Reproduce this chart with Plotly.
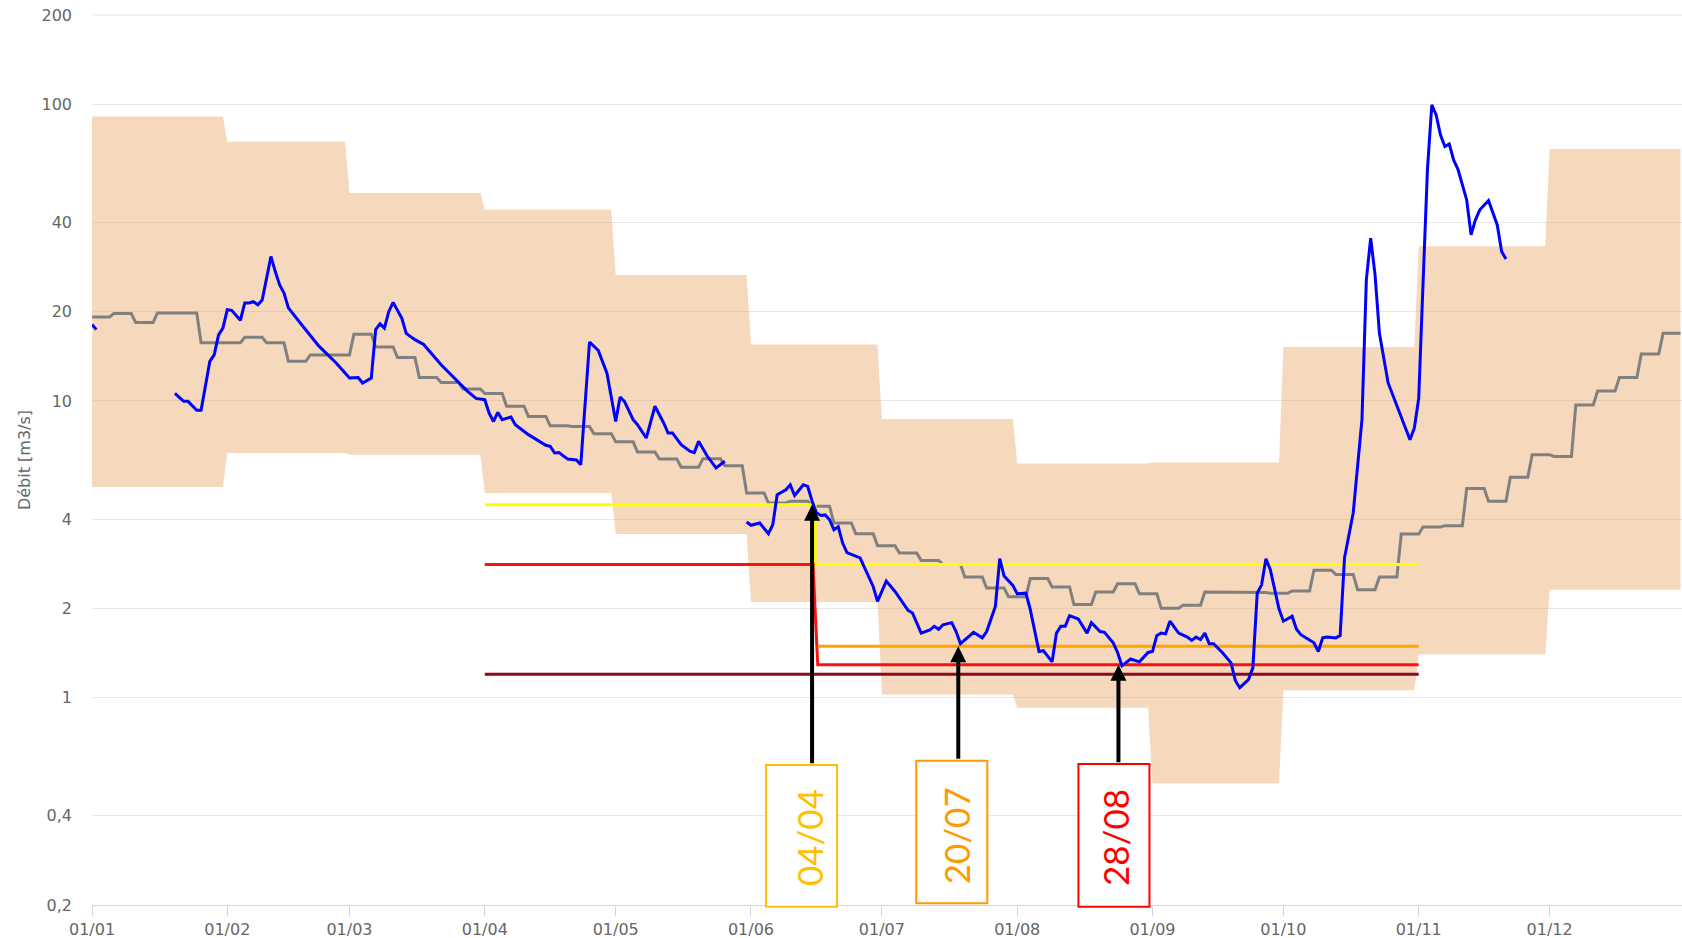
import numpy as np
import pandas as pd
import plotly.graph_objects as go

YEAR_START = pd.Timestamp("2022-01-01")


def doy(d):
    """jour de l'année (0 = 01/01) -> date"""
    return YEAR_START + pd.to_timedelta(d, unit="D")


# enveloppe mensuelle des débits (m3/s)
band_upper = [90.9, 74.8, 50.2, 44.1, 26.6, 15.5, 8.7, 6.15, 6.2, 15.2, 33.2, 70.7]
band_lower = [5.13, 6.68, 6.59, 4.9, 3.56, 2.10, 1.025, 0.924, 0.514, 1.06, 1.40, 2.31]

# débit médian par pentade (5 jours, à partir du 01/01)
median_pentad = [
    19.2, 19.7, 18.4, 19.8, 19.8, 15.7, 15.7, 16.4, 15.7, 13.6,
    14.3, 14.3, 16.8, 15.2, 14.0, 12.0, 11.55, 10.97, 10.6, 9.6,
    8.87, 8.25, 8.2, 7.76, 7.28, 6.73, 6.38, 5.98, 6.39, 6.05,
    4.9, 4.53, 4.59, 4.42, 3.88, 3.57, 3.25, 3.07, 2.9, 2.81,
    2.55, 2.34, 2.19, 2.52, 2.36, 2.06, 2.27, 2.42, 2.24, 2.0,
    2.05, 2.27, 2.27, 2.26, 2.25, 2.29, 2.69, 2.6, 2.31, 2.55,
    3.56, 3.76, 3.8, 5.07, 4.59, 5.53, 6.59, 6.5, 9.7, 10.8,
    12.0, 14.4, 16.9,
]

# débit observé (jour de l'année, m3/s) ; None = lacune
flow_days = [
    0, 1, 10,
    19, 21, 22, 23, 24, 25, 27, 28, 29, 30, 31, 32, 34, 35, 36, 37, 38, 39,
    40, 41, 42, 43, 44, 45, 48, 52, 56, 59, 61, 62, 64, 65, 66, 67, 68, 69,
    71, 72, 74, 76, 80, 83, 86, 88, 90, 91, 92, 93, 94, 96, 97, 100, 102,
    104, 105, 106, 107, 109, 111, 112, 114, 116, 118, 120, 121, 122, 124,
    125, 127, 129, 131, 132, 133, 135, 137, 138, 139, 141, 143, 145, 147,
    150, 151, 153, 155, 156, 157, 159, 160, 161, 163, 164, 165, 166, 167,
    168, 169, 170, 171, 172, 173, 176, 177, 179, 180, 182, 184, 186, 187,
    188, 190, 192, 193, 194, 195, 197, 198, 199, 201, 202, 204, 205, 207,
    208, 209, 211, 212, 214, 215, 216, 217, 218, 220, 221, 222, 223, 224,
    226, 228, 229, 231, 232, 234, 235, 236, 238, 240, 242, 243, 244, 245,
    246, 247, 249, 251, 252, 253, 254, 255, 256, 257, 259, 261, 262, 263,
    265, 266, 267, 268, 269, 270, 272, 273, 275, 276, 277, 279, 280, 281,
    282, 283, 285, 286, 287, 289, 291, 292, 293, 294, 295, 297, 300,
    302, 303, 304, 305, 306, 307, 308, 309, 310, 311, 312, 313, 315, 316,
    317, 318, 320, 322, 323, 324,
]
flow_vals = [
    18.1, 17.4, None,
    10.6, 9.97, 9.97, 9.6, 9.3, 9.3, 13.6, 14.3, 16.7, 17.6, 20.3, 20.2, 18.7, 21.4, 21.4, 21.6, 21.1, 21.9,
    25.9, 30.7, 27.3, 24.6, 23.1, 20.6, 18.1, 15.3, 13.4, 11.95, 12.0, 11.5, 11.95, 17.4, 18.2, 17.6, 20.0, 21.5,
    19.0, 16.9, 16.1, 15.5, 13.25, 11.95, 10.8, 10.2, 10.1, 9.1, 8.53, 9.15, 8.65, 8.83, 8.32, 7.7, 7.4,
    7.09, 7.03, 6.68, 6.7, 6.37, 6.33, 6.1, 15.8, 14.8, 12.4, 8.53, 10.3, 9.97, 8.65,
    8.32, 7.5, 9.6, 8.43, 7.8, 7.8, 7.12, 6.77, 6.7, 7.31, 6.51, 5.95, 6.26, None,
    3.91, 3.81, 3.88, 3.57, 3.83, 4.83, 5.02, 5.22, 4.8, 5.22, 5.15, 4.6, 4.2, 4.11,
    4.13, 3.98, 3.68, 3.77, 3.32, 3.08, 2.96, 2.74, 2.37, 2.11, 2.47, 2.28, 2.06, 1.97,
    1.93, 1.65, 1.69, 1.74, 1.70, 1.76, 1.79, 1.67, 1.52, 1.61, 1.66, 1.59, 1.67, 2.03,
    2.94, 2.57, 2.39, 2.24, 2.25, 1.98, 1.70, 1.43, 1.44, 1.32, 1.65, 1.74, 1.74, 1.89,
    1.84, 1.65, 1.79, 1.67, 1.66, 1.53, 1.42, 1.28, 1.35, 1.32, 1.42, 1.43, 1.62, 1.65,
    1.64, 1.81, 1.65, 1.6, 1.56, 1.6, 1.57, 1.65, 1.52, 1.52, 1.42, 1.31, 1.14, 1.08,
    1.15, 1.26, 2.25, 2.40, 2.94, 2.70, 1.99, 1.81, 1.88, 1.70, 1.63, 1.56, 1.53, 1.43,
    1.59, 1.6, 1.59, 1.62, 2.96, 4.2, 8.65, 25.6, 35.4, 26.6, 16.9, 11.5, 8.87,
    7.4, 8.1, 10.2, 25, 60.1, 99.5, 92.1, 78.8, 72.0, 73.5, 64.9, 60.4, 47.6, 36.3,
    40.8, 44.1, 47.4, 39.2, 31.9, 30.1,
]

# seuils sécheresse (jour de l'année, m3/s)
vigilance_days = [90, 165.7, 165.7, 304]
vigilance_vals = [4.47, 4.47, 2.81, 2.81]
alerte_renf_days = [90, 165.2, 166.3, 304]
alerte_renf_vals = [2.81, 2.81, 1.29, 1.29]
alerte_days = [166.3, 304]
alerte_vals = [1.49, 1.49]
crise_days = [90, 304]
crise_vals = [1.2, 1.2]

# franchissements de seuils annotés
cross_days = [165, 198.5, 235.2]
cross_vals = [4.47, 1.49, 1.29]
cross_labels = ["04/04", "20/07", "28/08"]
cross_colors = ["#FFC000", "#FF9900", "#FF0000"]

# ── construction des séries ──
month_start = pd.date_range("2022-01-01", periods=12, freq="MS")
month_end = month_start + pd.offsets.MonthEnd(0)
band_x = [d for s, e in zip(month_start, month_end) for d in (s, e)]
band_hi = [v for v in band_upper for _ in range(2)]
band_lo = [v for v in band_lower for _ in range(2)]

med_x, med_y = [], []
for k, v in enumerate(median_pentad):
    med_x += [doy(5 * k), doy(min(5 * k + 4, 364))]
    med_y += [v, v]

fig = go.Figure()

fig.add_trace(go.Scatter(x=band_x, y=band_lo, mode="lines", line=dict(width=0),
                         hoverinfo="skip", showlegend=False))
fig.add_trace(go.Scatter(x=band_x, y=band_hi, mode="lines", line=dict(width=0),
                         fill="tonexty", fillcolor="rgba(236,168,108,0.45)",
                         hoverinfo="skip", showlegend=False))

fig.add_trace(go.Scatter(x=med_x, y=med_y, mode="lines",
                         line=dict(color="#808080", width=3), name="Médiane"))

for days, vals, color in [
    (vigilance_days, vigilance_vals, "#FFFF00"),
    (alerte_renf_days, alerte_renf_vals, "#FF1010"),
    (alerte_days, alerte_vals, "#FFA500"),
    (crise_days, crise_vals, "#8B0A1E"),
]:
    fig.add_trace(go.Scatter(x=[doy(d) for d in days], y=vals, mode="lines",
                             line=dict(color=color, width=3), showlegend=False))

fig.add_trace(go.Scatter(x=[doy(d) for d in flow_days], y=flow_vals, mode="lines",
                         line=dict(color="#0000FF", width=3), connectgaps=False,
                         name="Débit"))

# ligne de grille du haut (200), masquée sinon par le bord du graphe
fig.add_shape(type="line", xref="paper", yref="paper", x0=0, x1=1, y0=1, y1=1,
              line=dict(color="#e6e6e6", width=1), layer="below")

# ── encadrés + flèches ──
box_px = [(-46, 25), (-42, 29), (-40, 31)]
box_paper = [(-0.002, 0.1573), (0.0019, 0.1621), (-0.0019, 0.1584)]
tail_px = [260, 114, 99]
text_shift = [-3, -2, -4]
text_y = [0.0753, 0.0775, 0.0758]

for i in range(3):
    xd = doy(cross_days[i])
    fig.add_shape(type="rect", xref="x", yref="paper", xsizemode="pixel",
                  xanchor=xd, x0=box_px[i][0], x1=box_px[i][1],
                  y0=box_paper[i][0], y1=box_paper[i][1],
                  line=dict(color=cross_colors[i], width=2), fillcolor="white")
    fig.add_annotation(x=xd, y=text_y[i], xref="x", yref="paper",
                       xanchor="center", yanchor="middle",
                       text=cross_labels[i], textangle=-90, showarrow=False,
                       xshift=text_shift[i],
                       font=dict(family="Lato", size=35, color=cross_colors[i]))
    fig.add_annotation(x=xd, y=np.log10(cross_vals[i]), xref="x", yref="y",
                       ax=0, ay=tail_px[i], text="", showarrow=True,
                       arrowhead=2, arrowsize=0.8, arrowwidth=4,
                       arrowcolor="black", standoff=0)

ytick_vals = [0.2, 0.4, 1, 2, 4, 10, 20, 40, 100, 200]
ytick_text = ["0,2", "0,4", "1", "2", "4", "10", "20", "40", "100", "200"]

fig.update_layout(
    width=1682, height=938,
    margin=dict(l=92, r=0, t=15, b=33),
    paper_bgcolor="white", plot_bgcolor="white",
    showlegend=False,
    font=dict(family="DejaVu Sans", size=16, color="#666666"),
)
fig.update_xaxes(
    type="date", range=[YEAR_START, pd.Timestamp("2022-12-31 08:00")],
    tick0="2022-01-01", dtick="M1", tickformat="%d/%m",
    ticks="outside", ticklen=10, tickcolor="#ccd6eb", tickwidth=1,
    showline=True, linecolor="#ccd6eb", linewidth=1,
    showgrid=False, zeroline=False, automargin=False,
    tickfont=dict(size=16, color="#666666"),
)
fig.update_yaxes(
    type="log", range=[np.log10(0.2), np.log10(200)],
    tickvals=ytick_vals, ticktext=ytick_text,
    ticks="", ticklabelstandoff=19,
    showgrid=True, gridcolor="#e6e6e6", gridwidth=1,
    zeroline=False, showline=False, automargin=False,
    title=dict(text="Débit [m3/s]", standoff=6, font=dict(size=16, color="#666666")),
    tickfont=dict(size=16, color="#666666"),
)

# page sans marge pour que la figure occupe toute la fenêtre
fig.write_html("out.html", config={"displayModeBar": False},
               post_script="document.body.style.margin='0px';")
